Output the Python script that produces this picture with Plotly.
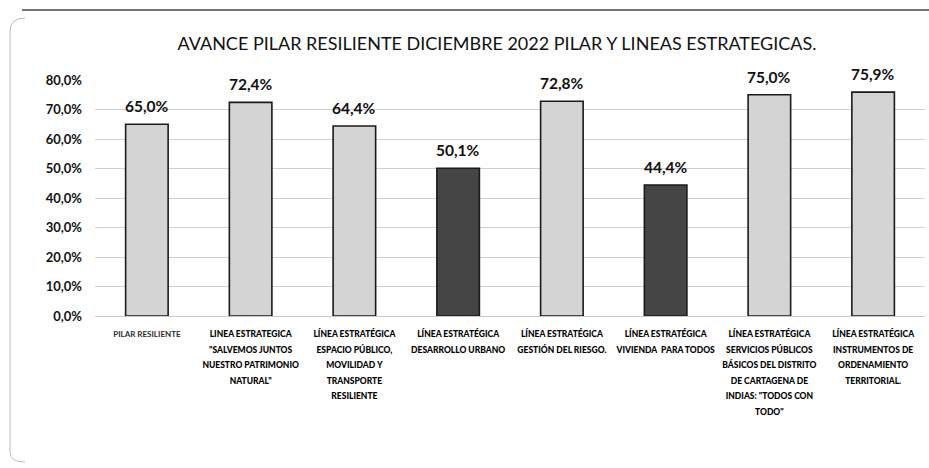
import plotly.graph_objects as go

categories = [
    "PILAR RESILIENTE",
    "LINEA ESTRATEGICA<br>\"SALVEMOS JUNTOS<br>NUESTRO PATRIMONIO<br>NATURAL\"",
    "LÍNEA ESTRATÉGICA<br>ESPACIO PÚBLICO,<br>MOVILIDAD Y<br>TRANSPORTE<br>RESILIENTE",
    "LÍNEA ESTRATÉGICA<br>DESARROLLO URBANO",
    "LÍNEA ESTRATÉGICA<br>GESTIÓN DEL RIESGO.",
    "LÍNEA ESTRATÉGICA<br>VIVIENDA  PARA TODOS",
    "LÍNEA ESTRATÉGICA<br>SERVICIOS PÚBLICOS<br>BÁSICOS DEL DISTRITO<br>DE CARTAGENA DE<br>INDIAS: \"TODOS CON<br>TODO\"",
    "LÍNEA ESTRATÉGICA<br>INSTRUMENTOS DE<br>ORDENAMIENTO<br>TERRITORIAL.",
]
values = [0.650, 0.724, 0.644, 0.501, 0.728, 0.444, 0.750, 0.759]
bar_colors = ["#d4d4d4", "#d4d4d4", "#d4d4d4", "#454545",
              "#d4d4d4", "#454545", "#d4d4d4", "#d4d4d4"]
y_ticks = [0, 0.1, 0.2, 0.3, 0.4, 0.5, 0.6, 0.7, 0.8]
title_text = "AVANCE PILAR RESILIENTE DICIEMBRE 2022 PILAR Y LINEAS ESTRATEGICAS."

x_pos = list(range(len(categories)))


def small_lines(label, size, weight, color):
    return "<br>".join(
        '<span style="font-size:%.1fpx;font-weight:%d;fill:%s">%s</span>'
        % (size, weight, color, ln)
        for ln in label.split("<br>"))


tick_text = [small_lines(c, 8.0, 700, "#2a2a2a") if i == 0
             else small_lines(c, 8.5, 900, "#000000")
             for i, c in enumerate(categories)]

FONT = "Lato, Open Sans, sans-serif"

fig = go.Figure()
fig.add_trace(go.Bar(
    x=x_pos,
    y=values,
    width=0.41,
    marker=dict(color=bar_colors, line=dict(color="#1a1a1a", width=1.6)),
    hoverinfo="skip",
))

for xi, v in zip(x_pos, values):
    fig.add_annotation(
        x=xi, y=v, xref="x", yref="y",
        text=("%.1f%%" % (v * 100)).replace(".", ","),
        showarrow=False, yanchor="middle", yshift=18,
        font=dict(family=FONT, size=15.5, color="#111111", weight="bold"),
    )

fig.update_layout(
    width=929, height=468,
    margin=dict(l=95, r=4, t=80, b=152),
    paper_bgcolor="white",
    plot_bgcolor="white",
    separators=",.",
    showlegend=False,
    title=dict(text=title_text, x=0.535, xanchor="center", y=0.907, yanchor="middle",
               font=dict(family=FONT, size=18, color="#111111")),
    xaxis=dict(
        range=[-0.5, len(categories) - 0.5],
        tickmode="array", tickvals=x_pos, ticktext=tick_text,
        tickangle=0,
        tickfont=dict(family=FONT, size=12, color="#111111", weight="bold"),
        showgrid=False, zeroline=False, showline=False,
        ticks="", ticklabelstandoff=8,
    ),
    yaxis=dict(
        range=[0, 0.8],
        tickmode="array", tickvals=y_ticks,
        tickformat=".1%",
        tickfont=dict(family=FONT, size=13, color="#111111", weight="bold"),
        showgrid=True, gridcolor="#d0d0d0", gridwidth=1,
        zeroline=True, zerolinecolor="#c8c8c8", zerolinewidth=1,
        showline=False, ticks="", ticklabelstandoff=12,
    ),
    shapes=[
        dict(type="line", xref="paper", yref="paper", layer="below",
             x0=-73/830, x1=834/830, y0=(468-152-10)/236, y1=(468-152-10)/236,
             line=dict(color="#444444", width=1.5)),
        dict(type="path", xref="paper", yref="paper", layer="below",
             path="M %f %f Q %f %f %f %f L %f %f Q %f %f %f %f" % (
                 -70/830, (316-18)/236,
                 -85/830, (316-18)/236, -85/830, (316-32)/236,
                 -85/830, (316-452)/236,
                 -85/830, (316-462)/236, -70/830, (316-462)/236),
             line=dict(color="#bbbbbb", width=1)),
    ],
)

fig.write_html("out.html")
